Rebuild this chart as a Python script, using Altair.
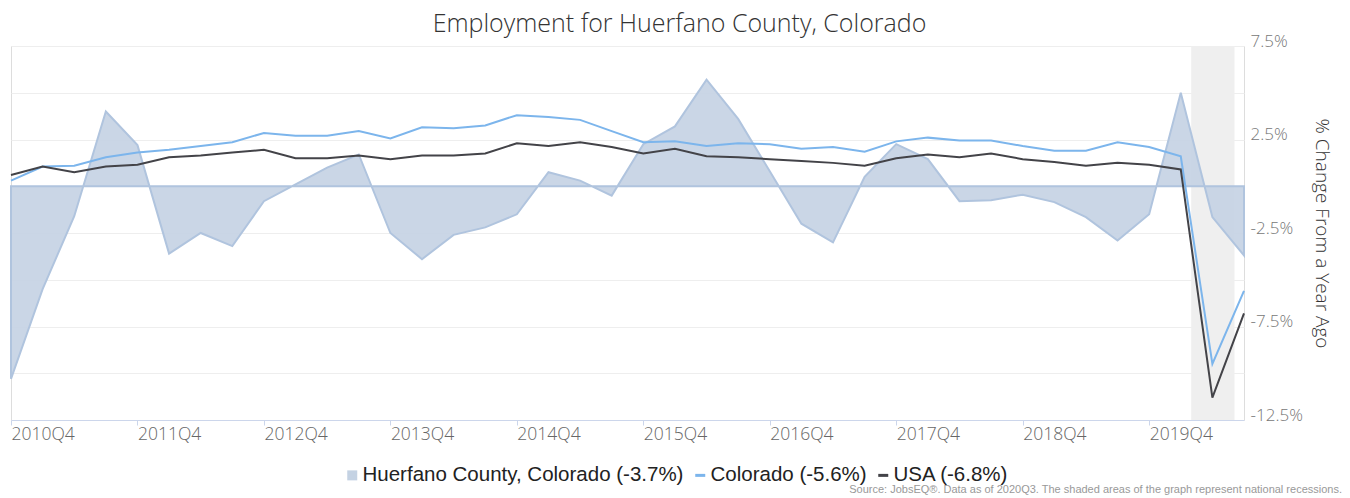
import altair as alt
import pandas as pd

# ---------------- data ----------------
quarters = (["2010Q4"] + [f"{y}Q{q}" for y in range(2011, 2020) for q in range(1, 5)]
            + ["2020Q1", "2020Q2", "2020Q3"])

huerfano = [-10.3, -5.5, -1.6, 4.0, 2.2, -3.6, -2.5, -3.2, -0.8, 0.1,
            1.0, 1.7, -2.5, -3.9, -2.6, -2.2, -1.5, 0.75, 0.3, -0.5,
            2.25, 3.2, 5.7, 3.6, 0.8, -2.0, -3.0, 0.5, 2.25, 1.45,
            -0.8, -0.75, -0.45, -0.85, -1.65, -2.9, -1.5, 5.0, -1.65, -3.7]
colorado = [0.3, 1.05, 1.1, 1.55, 1.8, 1.95, 2.15, 2.35, 2.85, 2.7,
            2.7, 2.95, 2.55, 3.15, 3.1, 3.25, 3.8, 3.7, 3.55, 2.95,
            2.35, 2.4, 2.15, 2.3, 2.25, 2.0, 2.1, 1.85, 2.4, 2.6,
            2.45, 2.45, 2.15, 1.9, 1.9, 2.35, 2.1, 1.6, -9.5, -5.6]
usa = [0.6, 1.05, 0.75, 1.05, 1.15, 1.55, 1.65, 1.8, 1.95, 1.5,
       1.5, 1.65, 1.45, 1.65, 1.65, 1.75, 2.3, 2.15, 2.35, 2.1,
       1.75, 2.0, 1.6, 1.55, 1.45, 1.35, 1.25, 1.1, 1.5, 1.7,
       1.55, 1.75, 1.45, 1.3, 1.1, 1.25, 1.15, 0.9, -11.3, -6.8]

series_names = ["Huerfano County, Colorado (-3.7%)", "Colorado (-5.6%)", "USA (-6.8%)"]
series_colors = ["#c4d2e3", "#7cb5ec", "#434348"]

x_tick_labels = ["2010Q4", "2011Q4", "2012Q4", "2013Q4", "2014Q4",
                 "2015Q4", "2016Q4", "2017Q4", "2018Q4", "2019Q4"]
y_grid_values = [7.5, 5.0, 2.5, 0.0, -2.5, -5.0, -7.5, -10.0, -12.5]
y_label_values = [7.5, 2.5, -2.5, -7.5, -12.5]

recession_start = [37.33]   # position in quarters from 2010Q4 (Feb 2020)
recession_end = [38.7]      # (Apr 2020)

title_text = "Employment for Huerfano County, Colorado"
y_title = "% Change From a Year Ago"
source_text = ("Source: JobsEQ\u00ae. Data as of 2020Q3. "
               "The shaded areas of the graph represent national recessions.")

# ---------------- tables ----------------
idx = list(range(len(quarters)))
area_df = pd.DataFrame({"i": idx, "quarter": quarters, "value": huerfano,
                        "series": series_names[0]})
line_df = pd.concat([
    pd.DataFrame({"i": idx, "quarter": quarters, "value": colorado, "series": series_names[1]}),
    pd.DataFrame({"i": idx, "quarter": quarters, "value": usa, "series": series_names[2]}),
])
rec_df = pd.DataFrame({"start": recession_start, "end": recession_end})
src_df = pd.DataFrame({"text": [source_text]})

W, H = 1233, 374

lab_arr = "[" + ",".join(f"'{t}'" for t in x_tick_labels) + "]"
ylab_arr = "[" + ",".join(str(v) for v in y_label_values) + "]"

x_scale = alt.Scale(domain=[0, len(quarters) - 1], nice=False, zero=False)
y_scale = alt.Scale(domain=[-12.5, 7.5], nice=False, zero=False)

x_axis = alt.Axis(
    values=[4 * k for k in range(len(x_tick_labels))],
    labelExpr=f"{lab_arr}[round(datum.value/4)]",
    title=None, grid=False,
    domainColor="#ccd6eb", tickColor="#ccd6eb", tickSize=5,
    labelAlign="left", labelBaseline="top", labelPadding=0,
    labelFont="Open Sans", labelFontSize=17.5, labelFontWeight=300,
    labelColor="#666666", labelFlush=False, labelOverlap=False,
)
y_axis = alt.Axis(
    orient="right", values=y_grid_values,
    labelExpr=(f"indexof({ylab_arr}, datum.value) >= 0 ? "
               "(datum.value < 0 ? '-' : '') + format(abs(datum.value), '.1f') + '%' : ''"),
    grid=True, gridColor="#eeeeee", gridWidth=1,
    domain=False, ticks=False,
    labelAlign="left", labelBaseline="alphabetic", labelPadding=6,
    labelFont="Open Sans", labelFontSize=17, labelFontWeight=300,
    labelColor="#777777", labelOverlap=False,
    title=y_title, titleAngle=90, titleFont="Open Sans", titleFontSize=19,
    titleFontWeight=300, titleColor="#333333", titleX=77, titleY=H / 2,
    titleAlign="center", titleBaseline="middle",
)

sel_first = f"datum.value == '{series_names[0]}'"
legend = alt.Legend(
    title=None, orient="none", direction="horizontal", columns=3,
    legendX=331, legendY=419,
    labelFont="Liberation Sans", labelFontSize=20.5, labelColor="#222222",
    labelLimit=0, labelOffset=0, columnPadding=5, symbolSize=100,
    symbolType=alt.ExprRef(expr=f"{sel_first} ? 'square' : 'stroke'"),
    symbolStrokeWidth=alt.ExprRef(expr=f"{sel_first} ? 0 : 3"),
    symbolOpacity=1,
)

color = alt.Color("series:N",
                  scale=alt.Scale(domain=series_names, range=series_colors),
                  legend=legend)

band = alt.Chart(rec_df).mark_rect(color="#efefef").encode(
    x=alt.X("start:Q", scale=x_scale, axis=x_axis),
    x2="end:Q",
    y=alt.Y(datum=7.5, scale=y_scale, axis=y_axis),
    y2=alt.Y2(datum=-12.5),
)

area = alt.Chart(area_df).mark_area(
    fillOpacity=0.9, stroke="#b0c4de", strokeWidth=2, line=False
).encode(
    x=alt.X("i:Q", scale=x_scale, axis=x_axis),
    y=alt.Y("value:Q", scale=y_scale, axis=y_axis),
    y2=alt.Y2(datum=0),
    color=color,
)

lines = alt.Chart(line_df).mark_line(strokeWidth=2).encode(
    x=alt.X("i:Q", scale=x_scale, axis=x_axis),
    y=alt.Y("value:Q", scale=y_scale, axis=y_axis),
    color=color,
    detail="series:N",
)

source = alt.Chart(src_df).mark_text(
    align="right", baseline="alphabetic", font="Liberation Sans",
    fontSize=11, color="#999999"
).encode(
    text="text:N",
    x=alt.value(W + 98),
    y=alt.value(H + 73),
)

chart = alt.layer(band, area, lines, source).properties(
    width=W, height=H,
    title=alt.TitleParams(
        text=title_text, anchor="middle", frame="group", dx=52, offset=-5,
        font="Open Sans", fontSize=25, fontWeight=300, color="#333333",
    ),
    autosize=alt.AutoSizeParams(type="none"),
    padding={"left": 3, "top": 38, "right": 98, "bottom": 76},
).configure_view(stroke=None).configure(background="white")

chart.save("out.html", embed_options={"renderer": "svg", "actions": False})
